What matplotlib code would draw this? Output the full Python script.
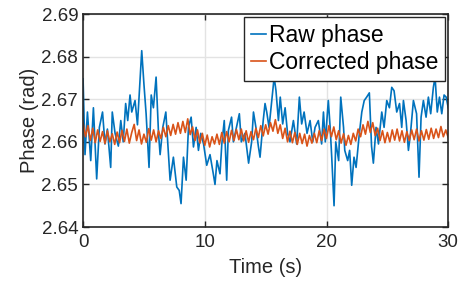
import matplotlib
matplotlib.use("Agg")
import matplotlib.pyplot as plt
import numpy as np

# raw phase (time in s, phase in rad)
t_raw = [0.0, 0.16, 0.36, 0.63, 0.85, 1.12, 1.34, 1.6, 1.8, 2.0, 2.27, 2.4, 2.63, 2.9, 3.1, 3.3, 3.5, 3.67, 3.86, 4.0,
         4.27, 4.47, 4.63, 4.82, 5.0, 5.18, 5.42, 5.6, 5.78, 6.0, 6.2, 6.33, 6.55, 6.8, 7.15, 7.42, 7.7, 7.9, 8.05, 8.25,
         8.47, 8.66, 8.88, 9.07, 9.29, 9.48, 9.67, 9.9, 10.16, 10.43, 10.7, 10.84, 11.0, 11.25, 11.4, 11.6, 11.8, 11.94,
         12.2, 12.35, 12.6, 12.84, 13.0, 13.3, 13.6, 13.85, 14.0, 14.2, 14.4, 14.54, 14.8, 14.95, 15.09, 15.28, 15.5,
         15.7, 15.85, 16.05, 16.2, 16.4, 16.6, 16.8, 17.0, 17.28, 17.55, 17.77, 17.96, 18.16, 18.4, 18.65, 18.87, 19.06,
         19.33, 19.6, 19.75, 19.9, 20.15, 20.3, 20.43, 20.62, 20.76, 21.0, 21.17, 21.4, 21.5, 21.74, 21.9, 22.07, 22.26,
         22.43, 22.7, 22.9, 23.1, 23.3, 23.52, 23.7, 23.85, 24.07, 24.27, 24.54, 24.73, 24.95, 25.17, 25.36, 25.55,
         25.77, 26.0, 26.18, 26.32, 26.54, 26.73, 26.9, 27.14, 27.4, 27.6, 27.77, 27.96, 28.18, 28.37, 28.56, 28.78,
         28.92, 29.1, 29.28, 29.47, 29.66, 29.83, 30.0]
raw = [2.6748, 2.6570, 2.6670, 2.6556, 2.6680, 2.6513, 2.6634, 2.6670, 2.6595, 2.6630, 2.6540, 2.6670, 2.6620,
       2.6590, 2.6650, 2.6600, 2.6690, 2.6650, 2.6710, 2.6670, 2.6697, 2.6640, 2.6720, 2.6814, 2.6736, 2.6666,
       2.6540, 2.6710, 2.6680, 2.6752, 2.6620, 2.6570, 2.6634, 2.6670, 2.6510, 2.6564, 2.6494, 2.6486, 2.6455,
       2.6564, 2.6510, 2.6634, 2.6658, 2.6588, 2.6634, 2.6580, 2.6620, 2.6595, 2.6545, 2.6570, 2.6525, 2.6500,
       2.6556, 2.6525, 2.6595, 2.6650, 2.6510, 2.6627, 2.6658, 2.6600, 2.6634, 2.6666, 2.6600, 2.6620, 2.6550,
       2.6600, 2.6670, 2.6634, 2.6590, 2.6564, 2.6650, 2.6690, 2.6670, 2.6634, 2.6697, 2.6752, 2.6720, 2.6650,
       2.6705, 2.6642, 2.6680, 2.6620, 2.6600, 2.6650, 2.6595, 2.6705, 2.6642, 2.6670, 2.6620, 2.6650, 2.6600,
       2.6634, 2.6650, 2.6595, 2.6670, 2.6600, 2.6697, 2.6634, 2.6564, 2.6450, 2.6600, 2.6556, 2.6705, 2.6634,
       2.6580, 2.6556, 2.6580, 2.6498, 2.6564, 2.6540, 2.6620, 2.6670, 2.6697, 2.6705, 2.6715, 2.6590, 2.6550,
       2.6634, 2.6595, 2.6670, 2.6634, 2.6697, 2.6680, 2.6728, 2.6720, 2.6670, 2.6690, 2.6634, 2.6697, 2.6650,
       2.6580, 2.6620, 2.6697, 2.6666, 2.6517, 2.6658, 2.6697, 2.6658, 2.6705, 2.6666, 2.6728, 2.6752, 2.6670,
       2.6705, 2.6666, 2.6710, 2.6705, 2.6680]

# corrected phase, one value every 0.2 s
t_corr = np.round(np.arange(0, 30.01, 0.2), 2)
corr = [2.6645, 2.6612, 2.6638, 2.6603, 2.6632, 2.6598, 2.6628, 2.6601, 2.6624, 2.6596,
        2.6626, 2.6600, 2.6619, 2.6594, 2.6623, 2.6598, 2.6627, 2.6601, 2.6630, 2.6597,
        2.6622, 2.6641, 2.6603, 2.6628, 2.6595, 2.6618, 2.6599, 2.6631, 2.6604, 2.6628,
        2.6600, 2.6626, 2.6608, 2.6634, 2.6612, 2.6638, 2.6615, 2.6641, 2.6618, 2.6645,
        2.6620, 2.6648, 2.6622, 2.6654, 2.6617, 2.6635, 2.6603, 2.6628, 2.6597, 2.6620,
        2.6592, 2.6616, 2.6588, 2.6612, 2.6595, 2.6618, 2.6594, 2.6622, 2.6597, 2.6624,
        2.6600, 2.6627, 2.6603, 2.6629, 2.6605, 2.6630, 2.6602, 2.6626, 2.6599, 2.6624,
        2.6605, 2.6632, 2.6610, 2.6638, 2.6614, 2.6640, 2.6618, 2.6645, 2.6625, 2.6652,
        2.6620, 2.6640, 2.6608, 2.6632, 2.6600, 2.6625, 2.6598, 2.6622, 2.6594, 2.6620,
        2.6596, 2.6618, 2.6590, 2.6615, 2.6597, 2.6620, 2.6598, 2.6626, 2.6603, 2.6630,
        2.6608, 2.6638, 2.6612, 2.6635, 2.6605, 2.6626, 2.6597, 2.6619, 2.6592, 2.6615,
        2.6594, 2.6620, 2.6602, 2.6630, 2.6612, 2.6640, 2.6618, 2.6648, 2.6622, 2.6645,
        2.6615, 2.6632, 2.6603, 2.6626, 2.6598, 2.6622, 2.6600, 2.6628, 2.6604, 2.6630,
        2.6602, 2.6626, 2.6599, 2.6624, 2.6603, 2.6628, 2.6605, 2.6630, 2.6602, 2.6626,
        2.6604, 2.6629, 2.6606, 2.6632, 2.6608, 2.6630, 2.6610, 2.6636, 2.6612, 2.6628,
        2.6610]

x_ticks = [0, 10, 20, 30]
y_ticks = [2.64, 2.65, 2.66, 2.67, 2.68, 2.69]

plt.rcParams['font.family'] = ['Liberation Sans', 'DejaVu Sans']

fig = plt.figure(figsize=(4.64, 2.81), dpi=100)
ax = fig.add_axes([0.179, 0.192, 0.787, 0.758])

ax.plot(t_raw, raw, color='#0072BD', lw=1.2, label='Raw phase')
ax.plot(t_corr, corr, color='#D95319', lw=1.2, label='Corrected phase')

ax.set_xlim(0, 30)
ax.set_ylim(2.64, 2.69)
ax.set_xticks(x_ticks)
ax.set_yticks(y_ticks)
ax.set_yticklabels(['%.2f' % v for v in y_ticks])
ax.grid(True, color='#e3e3e3', lw=1.0)
ax.set_axisbelow(True)
ax.tick_params(direction='in', length=4, width=1, top=True, right=True,
               labelsize=13.5, colors='#262626')
ax.tick_params(axis='x', pad=5)
for s in ax.spines.values():
    s.set_color('#262626')
    s.set_linewidth(1.2)

ax.set_xlabel('Time (s)', fontsize=14.5, color='#262626', labelpad=5)
ax.set_ylabel('Phase (rad)', fontsize=14.5, color='#262626', labelpad=2)

leg = ax.legend(loc='upper right', bbox_to_anchor=(0.992, 0.986), borderaxespad=0,
                fontsize=16.5, handlelength=0.65, handletextpad=0.15, borderpad=0.3,
                labelspacing=0.2, fancybox=False, framealpha=1)
leg.get_frame().set_edgecolor('#262626')
leg.get_frame().set_linewidth(1.0)

fig.savefig('out.png', dpi=100)
